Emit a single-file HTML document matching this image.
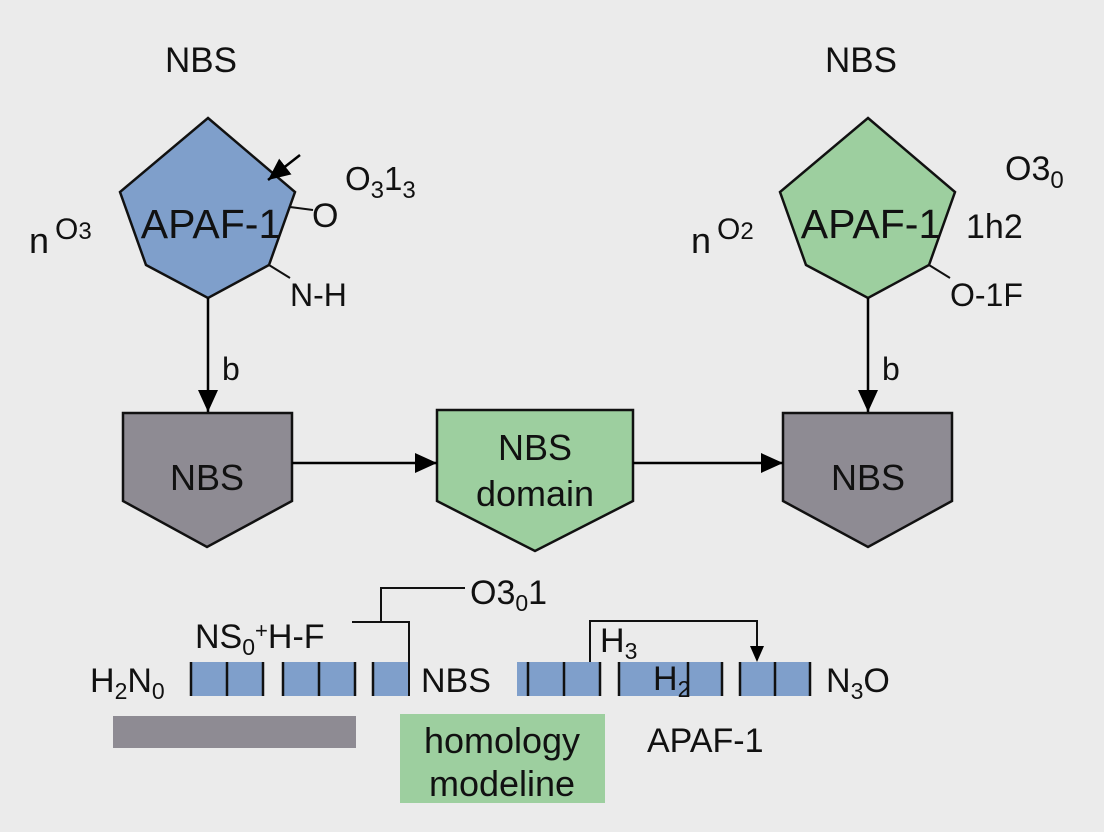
<!DOCTYPE html>
<html><head><meta charset="utf-8"><style>
html,body{margin:0;padding:0;background:#ebebeb;}
svg{display:block;font-family:"Liberation Sans",sans-serif;}
</style></head><body>
<svg width="1104" height="832" viewBox="0 0 1104 832" xmlns="http://www.w3.org/2000/svg">
<defs><marker id="b" markerWidth="22" markerHeight="20" refX="22" refY="10" orient="auto" markerUnits="userSpaceOnUse"><path d="M0,0 L22,10 L0,20 z" fill="#000"/></marker></defs>
<rect width="1104" height="832" fill="#ebebeb"/>
<g font-size="35" fill="#111">
<text x="165" y="72">NBS</text>
<text x="825" y="72">NBS</text>
</g>
<polygon points="208,118 295,192 269,265 208,298 146,265 120,192" fill="#7f9fcb" stroke="#111" stroke-width="2.5"/>
<text x="211" y="238" font-size="41" text-anchor="middle" fill="#111">APAF-1</text>
<line x1="300" y1="155" x2="268" y2="180" stroke="#000" stroke-width="2.5" marker-end="url(#b)"/>
<line x1="290" y1="207" x2="313" y2="210" stroke="#111" stroke-width="2"/>
<text x="312" y="227" font-size="34" fill="#111">O</text>
<text x="345" y="190" font-size="33" fill="#111">O<tspan font-size="24" dy="8">3</tspan><tspan dy="-8">1</tspan><tspan font-size="24" dy="8">3</tspan></text>
<line x1="269" y1="265" x2="290" y2="278" stroke="#111" stroke-width="2"/>
<text x="290" y="306" font-size="32" fill="#111">N-H</text>
<text x="29" y="253" font-size="36" fill="#111">n</text>
<text x="55" y="239" font-size="30" fill="#111">O<tspan font-size="24">3</tspan></text>
<line x1="208" y1="298" x2="208" y2="412" stroke="#000" stroke-width="2.5" marker-end="url(#b)"/>
<text x="222" y="380" font-size="32" fill="#111">b</text>
<polygon points="868,118 955,192 929,265 868,298 806,265 780,192" fill="#9dcf9f" stroke="#111" stroke-width="2.5"/>
<text x="871" y="238" font-size="41" text-anchor="middle" fill="#111">APAF-1</text>
<text x="966" y="238" font-size="34" fill="#111">1h2</text>
<text x="1005" y="180" font-size="34" fill="#111">O3<tspan font-size="24" dy="8">0</tspan></text>
<line x1="929" y1="265" x2="950" y2="278" stroke="#111" stroke-width="2"/>
<text x="950" y="306" font-size="32" fill="#111">O-1F</text>
<text x="691" y="253" font-size="36" fill="#111">n</text>
<text x="717" y="239" font-size="30" fill="#111">O<tspan font-size="24">2</tspan></text>
<line x1="868" y1="298" x2="868" y2="412" stroke="#000" stroke-width="2.5" marker-end="url(#b)"/>
<text x="882" y="380" font-size="32" fill="#111">b</text>
<polygon points="123,413 292,413 292,501 207,547 123,501" fill="#8e8b93" stroke="#111" stroke-width="2.5"/>
<text x="207" y="490" font-size="36" text-anchor="middle" fill="#111">NBS</text>
<polygon points="437,410 633,410 633,501 535,551 437,501" fill="#9dcf9f" stroke="#111" stroke-width="2.5"/>
<text x="535" y="460" font-size="36" text-anchor="middle" fill="#111">NBS</text>
<text x="535" y="506" font-size="36" text-anchor="middle" fill="#111">domain</text>
<polygon points="783,413 952,413 952,501 868,547 783,501" fill="#8e8b93" stroke="#111" stroke-width="2.5"/>
<text x="868" y="490" font-size="36" text-anchor="middle" fill="#111">NBS</text>
<line x1="292" y1="463" x2="437" y2="463" stroke="#000" stroke-width="2.5" marker-end="url(#b)"/>
<line x1="633" y1="463" x2="783" y2="463" stroke="#000" stroke-width="2.5" marker-end="url(#b)"/>
<g fill="#7f9fcb">
<rect x="192" y="662" width="71" height="34"/>
<rect x="284" y="662" width="71" height="34"/>
<rect x="373" y="662" width="36" height="34"/>
<rect x="517" y="662" width="83" height="34"/>
<rect x="619" y="662" width="103" height="34"/>
<rect x="740" y="662" width="70" height="34"/>
</g>
<g stroke="#111" stroke-width="2.5">
<line x1="191" y1="662" x2="191" y2="696"/><line x1="227" y1="662" x2="227" y2="696"/><line x1="263" y1="662" x2="263" y2="696"/>
<line x1="283" y1="662" x2="283" y2="696"/><line x1="319" y1="662" x2="319" y2="696"/><line x1="355" y1="662" x2="355" y2="696"/>
<line x1="373" y1="662" x2="373" y2="696"/>
<line x1="528" y1="662" x2="528" y2="696"/><line x1="564" y1="662" x2="564" y2="696"/><line x1="600" y1="662" x2="600" y2="696"/>
<line x1="619" y1="662" x2="619" y2="696"/><line x1="688" y1="662" x2="688" y2="696"/><line x1="722" y1="662" x2="722" y2="696"/>
<line x1="740" y1="662" x2="740" y2="696"/><line x1="775" y1="662" x2="775" y2="696"/><line x1="810" y1="662" x2="810" y2="696"/>
</g>
<g fill="none" stroke="#111" stroke-width="2">
<polyline points="352,622 409,622 409,696"/>
<polyline points="381,622 381,588 465,588"/>
<polyline points="590,662 590,621 757,621 757,650"/>
</g>
<path d="M750,646 L764,646 L757,662 z" fill="#000"/>
<g font-size="34" fill="#111">
<text x="470" y="604">O3<tspan font-size="23" dy="7">0</tspan><tspan dy="-7">1</tspan></text>
<text x="195" y="648">NS<tspan font-size="23" dy="7">0</tspan><tspan font-size="22" dy="-17">+</tspan><tspan dy="10">H-F</tspan></text>
<text x="90" y="692">H<tspan font-size="23" dy="7">2</tspan><tspan dy="-7">N</tspan><tspan font-size="23" dy="7">0</tspan></text>
<text x="421" y="692">NBS</text>
<text x="600" y="652">H<tspan font-size="23" dy="7">3</tspan></text>
<text x="653" y="690">H<tspan font-size="23" dy="7">2</tspan></text>
<text x="826" y="692">N<tspan font-size="23" dy="7">3</tspan><tspan dy="-7">O</tspan></text>
<text x="647" y="752">APAF-1</text>
</g>
<rect x="113" y="716" width="243" height="32" fill="#8e8b93"/>
<rect x="400" y="714" width="205" height="89" fill="#9dcf9f"/>
<text x="502" y="753" font-size="36" text-anchor="middle" fill="#111">homology</text>
<text x="502" y="796" font-size="36" text-anchor="middle" fill="#111">modeline</text>
</svg>
</body></html>
